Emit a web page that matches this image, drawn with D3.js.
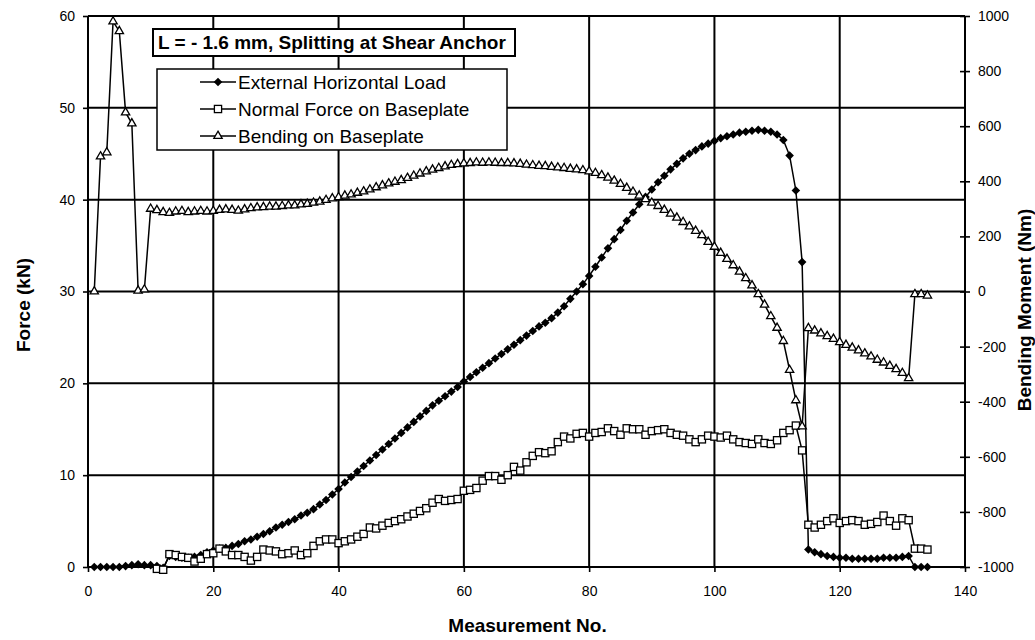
<!DOCTYPE html>
<html>
<head>
<meta charset="utf-8">
<script src="https://cdn.jsdelivr.net/npm/d3@7/dist/d3.min.js"></script>
<style>
  body { margin: 0; background: #fff; }
  text { font-family: "Liberation Sans", Arial, sans-serif; fill: #000; }
</style>
</head>
<body>
<div id="chart"></div>
<script>
const externalLoad = [
  0, 0, 0, 0, 0, 0.1, 0.2, 0.3, 0.2, 0.2,
  0.1, -0.1, 1.2, 1.1, 1.0, 1.0, 1.1, 1.3, 1.6, 1.8,
  2.0, 2.1, 2.3, 2.5, 2.8, 3.0, 3.3, 3.6, 3.9, 4.3,
  4.6, 4.9, 5.2, 5.6, 5.9, 6.3, 6.8, 7.3, 7.9, 8.5,
  9.2, 9.8, 10.4, 11.0, 11.6, 12.2, 12.8, 13.4, 14.0, 14.6,
  15.2, 15.8, 16.4, 17.0, 17.6, 18.1, 18.6, 19.1, 19.6, 20.2,
  20.7, 21.2, 21.7, 22.2, 22.7, 23.2, 23.7, 24.2, 24.7, 25.2,
  25.7, 26.2, 26.6, 27.1, 27.7, 28.4, 29.2, 30.0, 30.8, 31.7,
  32.7, 33.7, 34.7, 35.7, 36.7, 37.7, 38.6, 39.5, 40.3, 41.1,
  41.9, 42.6, 43.3, 43.9, 44.5, 45.0, 45.4, 45.8, 46.1, 46.4,
  46.7, 46.9, 47.1, 47.3, 47.4, 47.5, 47.6, 47.5, 47.4, 47.1,
  46.5, 44.8, 41.0, 33.2, 1.9, 1.6, 1.4, 1.2, 1.1, 1.0,
  1.0, 0.9, 0.9, 0.9, 0.9, 0.9, 1.0, 1.0, 1.0, 1.1,
  1.2, 0, 0, 0
];

const normalForce = [
  null, null, null, null, null, null, null, null, null, null,
  -0.2, -0.3, 1.4, 1.3, 1.1, 1.0, 0.6, 0.9, 1.4, 1.5,
  2.0, 1.7, 1.3, 1.3, 1.1, 0.7, 1.1, 1.9, 1.8, 1.7,
  1.4, 1.5, 1.8, 1.3, 1.5, 2.3, 2.8, 3.0, 3.0, 2.6,
  2.8, 3.0, 3.3, 3.6, 4.3, 4.2, 4.5, 4.8, 5.0, 5.2,
  5.5, 5.8, 6.1, 6.4, 7.0, 7.4, 7.2, 7.3, 7.4, 8.3,
  8.4, 8.6, 9.4, 9.9, 9.9, 9.5, 10.0, 10.9, 10.5, 11.4,
  12.1, 12.5, 12.4, 12.6, 13.6, 14.2, 14.0, 14.5, 14.6, 14.2,
  14.6, 14.7, 15.1, 14.8, 14.4, 15.1, 15.0, 15.0, 14.4, 14.8,
  14.9, 15.0, 14.6, 14.4, 14.3, 13.9, 13.6, 13.9, 14.3, 14.2,
  14.1, 14.3, 13.9, 13.6, 13.5, 13.4, 13.9, 13.5, 13.4, 13.8,
  14.6, 14.9, 15.4, 12.7, 4.6, 4.3, 4.6, 5.0, 5.3, 4.8,
  5.0, 5.1, 5.0, 4.6, 4.7, 4.9, 5.6, 5.0, 4.5, 5.3,
  5.1, 2.0, 2.0, 1.9
];

const bendingMoment = [
  0, 490, 505, 980, 945, 650, 610, 3, 7, 300,
  295, 288, 285, 290, 292, 288, 290, 292, 290, 292,
  296, 298, 296, 293, 298, 302, 305, 306, 308, 308,
  310, 312, 312, 316, 318, 322, 326, 332, 338, 342,
  348, 352, 358, 363, 370, 378, 385, 392, 398, 404,
  412, 420, 428, 436, 442, 448, 454, 459, 462, 465,
  466, 468, 467, 468, 467, 466, 466, 465, 463, 460,
  458, 456, 455, 452, 450, 448, 445, 443, 440, 436,
  430, 422, 413, 402, 390, 376, 362, 348, 335, 322,
  310, 296, 282, 268, 252, 236, 220, 204, 180, 162,
  140, 118, 95, 72, 48, 22, -10, -48, -90, -132,
  -180, -285, -395, -490, -133, -142, -152, -162, -172, -184,
  -194, -204, -214, -225, -236, -248, -258, -270, -282, -296,
  -315, -10, -10, -15
];

const measTicks = [0, 20, 40, 60, 80, 100, 120, 140];
const forceTicks = [0, 10, 20, 30, 40, 50, 60];
const momentTicks = [-1000, -800, -600, -400, -200, 0, 200, 400, 600, 800, 1000];

const seriesNames = ["External Horizontal Load", "Normal Force on Baseplate", "Bending on Baseplate"];
const titleText = "L = - 1.6 mm, Splitting at Shear Anchor";

const width = 1035;
const height = 640;
const marginTop = 16;
const marginRight = 70;
const marginBottom = 73;
const marginLeft = 88;

const svg = d3.select("#chart")
  .append("svg")
  .attr("width", width)
  .attr("height", height);

const x = d3.scaleLinear().domain([0, 140]).range([marginLeft, width - marginRight]);
const y = d3.scaleLinear().domain([0, 60]).range([height - marginBottom, marginTop]);
const y2 = d3.scaleLinear().domain([-1000, 1000]).range([height - marginBottom, marginTop]);

// grid
const grid = svg.append("g").attr("stroke", "#000").attr("stroke-width", 2);
grid.selectAll("line.h")
  .data(forceTicks)
  .join("line")
  .attr("class", "h")
  .attr("x1", x(0)).attr("x2", x(140))
  .attr("y1", d => y(d)).attr("y2", d => y(d));
grid.selectAll("line.v")
  .data(measTicks)
  .join("line")
  .attr("class", "v")
  .attr("x1", d => x(d)).attr("x2", d => x(d))
  .attr("y1", y(0)).attr("y2", y(60));

// axes (plain hyphen for negatives, no thousands separator)
const plain = d => String(d);
const xAxis = svg.append("g")
  .attr("transform", `translate(0,${y(0)})`)
  .call(d3.axisBottom(x).tickValues(measTicks).tickFormat(plain).tickSize(5).tickPadding(14));
const yAxis = svg.append("g")
  .attr("transform", `translate(${x(0)},0)`)
  .call(d3.axisLeft(y).tickValues(forceTicks).tickFormat(plain).tickSize(5).tickPadding(8));
const yAxis2 = svg.append("g")
  .attr("transform", `translate(${x(140)},0)`)
  .call(d3.axisRight(y2).tickValues(momentTicks).tickFormat(plain).tickSize(5).tickPadding(8));
yAxis2.selectAll(".tick line").attr("x1", -5);

[xAxis, yAxis, yAxis2].forEach(g => {
  g.select(".domain").remove();
  g.selectAll(".tick line").attr("stroke", "#000").attr("stroke-width", 1.6);
  g.selectAll(".tick text")
    .attr("font-size", 14)
    .attr("font-family", "Liberation Sans, Arial, sans-serif")
    .attr("fill", "#000");
});

// axis titles
svg.append("text")
  .attr("x", (x(0) + x(140)) / 2 + 1)
  .attr("y", 632)
  .attr("text-anchor", "middle")
  .attr("font-size", 19)
  .attr("font-weight", "bold")
  .text("Measurement No.");

svg.append("text")
  .attr("transform", `translate(30,305) rotate(-90)`)
  .attr("text-anchor", "middle")
  .attr("font-size", 19)
  .attr("font-weight", "bold")
  .text("Force (kN)");

svg.append("text")
  .attr("transform", `translate(1031,310) rotate(-90)`)
  .attr("text-anchor", "middle")
  .attr("font-size", 19)
  .attr("font-weight", "bold")
  .text("Bending Moment (Nm)");

// series
const toPoints = (vals) => vals.map((v, i) => ({ n: i + 1, v }));
const loadPts = toPoints(externalLoad);
const normalPts = toPoints(normalForce).filter(d => d.v !== null);
const bendPts = toPoints(bendingMoment);

const lineF = d3.line().x(d => x(d.n)).y(d => y(d.v));
const lineM = d3.line().x(d => x(d.n)).y(d => y2(d.v));

const diamond = "M0,-4.3L4.3,0L0,4.3L-4.3,0Z";
const triangle = d3.symbol(d3.symbolTriangle, 30)();

const drawDiamonds = (g, pts, yy) => g.selectAll("path.m").data(pts).join("path")
  .attr("class", "m")
  .attr("d", diamond)
  .attr("transform", d => `translate(${x(d.n)},${yy(d.v)})`)
  .attr("fill", "#000");

const drawSquares = (g, pts, yy) => g.selectAll("rect.m").data(pts).join("rect")
  .attr("class", "m")
  .attr("x", d => x(d.n) - 3.6).attr("y", d => yy(d.v) - 3.6)
  .attr("width", 7.2).attr("height", 7.2)
  .attr("fill", "#fff").attr("stroke", "#000").attr("stroke-width", 1.3);

const drawTriangles = (g, pts, yy) => g.selectAll("path.m").data(pts).join("path")
  .attr("class", "m")
  .attr("d", triangle)
  .attr("transform", d => `translate(${x(d.n)},${yy(d.v)})`)
  .attr("fill", "#fff").attr("stroke", "#000").attr("stroke-width", 1.3);

const gLoad = svg.append("g");
gLoad.append("path").datum(loadPts).attr("d", lineF)
  .attr("fill", "none").attr("stroke", "#000").attr("stroke-width", 1.5);
drawDiamonds(gLoad, loadPts, y);

const gNormal = svg.append("g");
gNormal.append("path").datum(normalPts).attr("d", lineF)
  .attr("fill", "none").attr("stroke", "#000").attr("stroke-width", 1.5);
drawSquares(gNormal, normalPts, y);

const gBend = svg.append("g");
gBend.append("path").datum(bendPts).attr("d", lineM)
  .attr("fill", "none").attr("stroke", "#000").attr("stroke-width", 1.5);
drawTriangles(gBend, bendPts, y2);

// title box
svg.append("rect")
  .attr("x", 153).attr("y", 29).attr("width", 362).attr("height", 27)
  .attr("fill", "#fff").attr("stroke", "#000").attr("stroke-width", 2);
svg.append("text")
  .attr("x", 158).attr("y", 49)
  .attr("font-size", 19)
  .attr("font-weight", "bold")
  .text(titleText);

// legend
const legend = svg.append("g");
legend.append("rect")
  .attr("x", 157).attr("y", 69).attr("width", 350).attr("height", 81)
  .attr("fill", "#fff").attr("stroke", "#000").attr("stroke-width", 1.5);
const rowY = [82, 109, 136];
const items = legend.selectAll("g.item")
  .data(seriesNames)
  .join("g")
  .attr("class", "item")
  .attr("transform", (d, i) => `translate(0,${rowY[i]})`);
items.append("line")
  .attr("x1", 200).attr("x2", 236).attr("y1", 0).attr("y2", 0)
  .attr("stroke", "#000").attr("stroke-width", 1.5);
items.append("text")
  .attr("x", 238).attr("y", 0)
  .attr("dy", "0.35em")
  .attr("font-size", 19)
  .text(d => d);
items.filter((d, i) => i === 0).append("path")
  .attr("d", diamond).attr("transform", "translate(218,0)").attr("fill", "#000");
items.filter((d, i) => i === 1).append("rect")
  .attr("x", 214.4).attr("y", -3.6).attr("width", 7.2).attr("height", 7.2)
  .attr("fill", "#fff").attr("stroke", "#000").attr("stroke-width", 1.3);
items.filter((d, i) => i === 2).append("path")
  .attr("d", triangle).attr("transform", "translate(218,0)")
  .attr("fill", "#fff").attr("stroke", "#000").attr("stroke-width", 1.3);
</script>
</body>
</html>
